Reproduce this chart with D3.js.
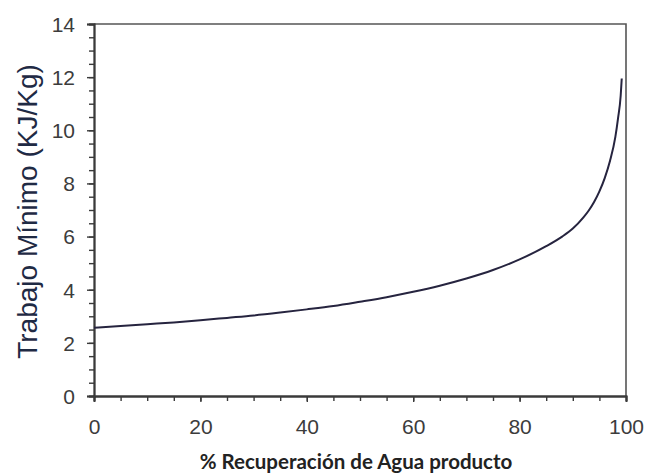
<!DOCTYPE html>
<html>
<head>
<meta charset="utf-8">
<script src="https://cdn.jsdelivr.net/npm/d3@7"></script>
<style>
  html, body { margin: 0; padding: 0; background: #fff; }
  svg { display: block; }
</style>
</head>
<body>
<svg id="chart" width="647" height="473"></svg>
<script>
// ---- data ----
const recovery = [0, 5, 10, 15, 20, 25, 30, 35, 40, 45, 50, 55, 60, 65, 70, 75, 80, 85, 88, 90, 92, 93, 94, 95, 96, 97, 98, 98.5, 99, 99.2];
const minWork  = [2.57, 2.63, 2.70, 2.77, 2.85, 2.94, 3.03, 3.14, 3.26, 3.39, 3.55, 3.72, 3.92, 4.15, 4.42, 4.74, 5.14, 5.64, 6.0, 6.3, 6.72, 6.98, 7.3, 7.7, 8.2, 8.85, 9.75, 10.45, 11.3, 11.95];
const xTicks = [0, 20, 40, 60, 80, 100];
const yTicks = [0, 2, 4, 6, 8, 10, 12, 14];
const xTitle = "% Recuperación de Agua producto";
const yTitle = "Trabajo Mínimo (KJ/Kg)";

// ---- layout ----
const mLeft = 94, mRight = 626, mTop = 24, mBottom = 396;
const svg = d3.select("#chart");

const x = d3.scaleLinear().domain([0, 100]).range([mLeft, mRight]);
const y = d3.scaleLinear().domain([0, 14]).range([mBottom, mTop]);

const axisColor = "#3a3a3a";
const textColor = "#3c3c3c";

// frame (top and right)
svg.append("path")
  .attr("d", `M${mLeft},${mTop}H${mRight}V${mBottom}`)
  .attr("fill", "none").attr("stroke", "#555").attr("stroke-width", 1.6);

// minor ticks
const xMinor = d3.range(0, 101, 5);
const yMinor = d3.range(0, 14.01, 0.5);

const gx = svg.append("g").attr("transform", `translate(0,${mBottom})`);
gx.call(d3.axisBottom(x).tickValues(xMinor).tickSize(5).tickFormat(""));
const gx2 = svg.append("g").attr("transform", `translate(0,${mBottom})`);
gx2.call(d3.axisBottom(x).tickValues(xTicks).tickSize(6).tickPadding(17).tickFormat(d3.format("d")));

const gy = svg.append("g").attr("transform", `translate(${mLeft},0)`);
gy.call(d3.axisLeft(y).tickValues(yMinor).tickSize(5).tickFormat(""));
const gy2 = svg.append("g").attr("transform", `translate(${mLeft},0)`);
gy2.call(d3.axisLeft(y).tickValues(yTicks).tickSize(7).tickPadding(12).tickFormat(d3.format("d")));

[gx, gx2, gy, gy2].forEach(g => {
  g.selectAll("path.domain").attr("stroke", axisColor).attr("stroke-width", 1.8);
  g.selectAll(".tick line").attr("stroke", axisColor).attr("stroke-width", 1.4);
  g.selectAll(".tick text")
    .attr("fill", textColor)
    .style("font-family", "'Liberation Sans', Arial, sans-serif")
    .style("font-size", "21px");
});
gy2.selectAll(".tick text").attr("dy", "0.35em");

// curve
const line = d3.line()
  .x((d, i) => x(recovery[i]))
  .y(d => y(d))
  .curve(d3.curveMonotoneX);

svg.append("path")
  .datum(minWork)
  .attr("d", line)
  .attr("fill", "none")
  .attr("stroke", "#26243f")
  .attr("stroke-width", 2);

// axis titles
svg.append("text")
  .attr("transform", `translate(37,${(60 + 363) / 2}) rotate(-90)`)
  .attr("text-anchor", "middle")
  .attr("fill", "#1f2a44")
  .style("font-family", "'Liberation Sans', Arial, sans-serif")
  .style("font-size", "28px")
  .text(yTitle);

svg.append("text")
  .attr("x", 356)
  .attr("y", 469)
  .attr("text-anchor", "middle")
  .attr("fill", "#222")
  .style("font-family", "Lato, 'Open Sans', sans-serif")
  .style("font-weight", "bold")
  .style("font-size", "20.5px")
  .text(xTitle);
</script>
</body>
</html>
